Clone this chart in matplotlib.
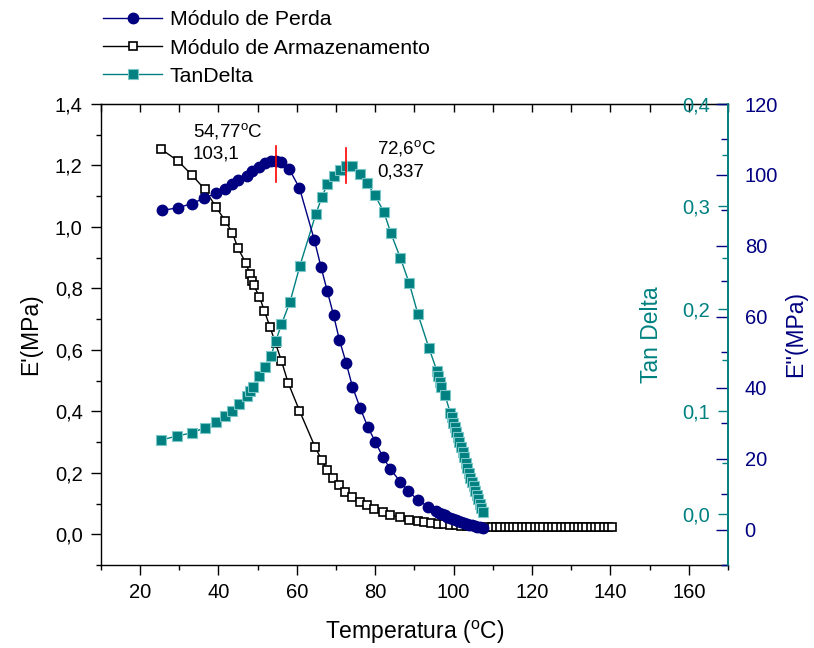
import numpy as np
import matplotlib
matplotlib.use('Agg')
import matplotlib.pyplot as plt
from matplotlib.ticker import MultipleLocator, FuncFormatter

plt.rcParams['font.family'] = ['Liberation Sans', 'DejaVu Sans']
plt.rcParams['mathtext.default'] = 'regular'

# Módulo de Armazenamento E' (MPa), eixo esquerdo
t_arm = [25.4, 29.6, 33.2, 36.5, 39.4, 41.8, 43.6, 45.0, 47.0, 48.1, 48.6, 49.0,
         50.5, 51.7, 53.2, 54.6, 56.1, 57.8, 60.7, 64.7, 66.4, 67.7, 69.2, 70.9,
         72.4, 74.2, 76.2, 78.0, 79.8, 82.0, 83.9, 86.4, 88.6, 90.8, 92.5, 94.3,
         96.0, 97.5, 99.0, 100.5, 102.0, 103.5, 105.0, 106.5, 108.0, 109.7, 110.8,
         111.9, 113.0, 114.1, 115.2, 116.3, 117.4, 118.5, 119.6, 120.7, 121.8, 122.9,
         124.0, 125.1, 126.2, 127.3, 128.4, 129.5, 130.6, 131.7, 132.8, 133.9, 135.0,
         136.1, 137.2, 138.3, 139.4, 140.3]
e_arm = [1.253, 1.216, 1.170, 1.123, 1.065, 1.019, 0.981, 0.931, 0.883, 0.846, 0.824, 0.810,
         0.773, 0.728, 0.674, 0.621, 0.564, 0.493, 0.402, 0.283, 0.241, 0.210, 0.183, 0.159,
         0.137, 0.122, 0.105, 0.095, 0.082, 0.073, 0.063, 0.055, 0.048, 0.042, 0.040, 0.037,
         0.035, 0.033, 0.031, 0.030, 0.028, 0.027, 0.026, 0.025, 0.024, 0.023, 0.023,
         0.023, 0.023, 0.022, 0.022, 0.022, 0.022, 0.022, 0.022, 0.022, 0.022, 0.022,
         0.022, 0.022, 0.022, 0.022, 0.022, 0.022, 0.022, 0.022, 0.022, 0.022, 0.022,
         0.022, 0.022, 0.022, 0.022, 0.022]

# Módulo de Perda E'' (MPa), eixo direito externo
t_perda = [25.6, 29.6, 33.2, 36.3, 39.4, 41.7, 43.5, 45.0, 47.3, 48.6, 50.4, 51.9,
           53.5, 54.7, 56.1, 58.1, 60.7, 64.5, 66.2, 67.8, 69.4, 70.9, 72.6, 74.2,
           76.2, 78.1, 80.0, 82.0, 83.9, 86.4, 88.5, 90.9, 93.6, 95.6, 96.3, 97.0,
           97.7, 98.4, 99.1, 99.8, 100.5, 101.2, 101.9, 102.6, 103.3, 104.0, 104.7,
           105.4, 106.1, 106.8, 107.5]
e_perda = [90.0, 90.7, 91.9, 93.4, 94.8, 96.0, 97.3, 98.6, 99.7, 101.1, 102.3, 103.3,
           103.9, 104.0, 103.6, 101.6, 96.3, 81.6, 74.0, 67.2, 60.4, 53.4, 47.0, 40.3,
           34.2, 29.0, 24.8, 20.4, 17.0, 13.5, 10.8, 8.3, 6.4, 5.2, 4.8, 4.4,
           4.0, 3.6, 3.3, 3.0, 2.7, 2.4, 2.1, 1.8, 1.6, 1.4, 1.2,
           1.0, 0.8, 0.6, 0.4]

# Tan Delta, eixo direito interno
t_tan = [25.5, 29.5, 33.3, 36.5, 39.4, 41.8, 43.6, 45.2, 47.2, 48.1, 48.8, 50.5,
         51.8, 53.4, 54.7, 56.1, 58.3, 60.8, 64.9, 66.4, 67.8, 69.4, 71.0, 72.6,
         74.2, 76.2, 77.9, 79.9, 82.2, 84.0, 86.4, 88.7, 90.9, 93.7, 95.8, 96.1,
         96.5, 96.9, 97.8, 99.2, 99.5, 99.9, 100.3, 100.7, 101.1, 101.5, 101.9,
         102.3, 102.7, 103.1, 103.5, 103.9, 104.3, 104.7, 105.1, 105.5, 105.9,
         106.3, 106.7, 107.1, 107.5]
tan_d = [0.072, 0.076, 0.079, 0.084, 0.090, 0.095, 0.100, 0.107, 0.115, 0.120, 0.124, 0.134,
         0.143, 0.154, 0.169, 0.185, 0.207, 0.242, 0.293, 0.309, 0.322, 0.330, 0.336, 0.339,
         0.339, 0.332, 0.323, 0.311, 0.295, 0.274, 0.250, 0.225, 0.195, 0.162, 0.139, 0.134,
         0.129, 0.124, 0.116, 0.098, 0.094, 0.089, 0.085, 0.080, 0.075, 0.070, 0.065,
         0.060, 0.055, 0.050, 0.045, 0.040, 0.035, 0.031, 0.027, 0.022, 0.018,
         0.014, 0.010, 0.006, 0.002]

# picos anotados
pk_perda_t, pk_perda_v = 54.77, 103.1
pk_tan_t, pk_tan_v = 72.6, 0.337

navy = '#000080'
teal = '#008080'

comma = lambda fmt: FuncFormatter(lambda v, p: fmt.format(v).replace('.', ','))

fig = plt.figure(figsize=(8.14, 6.48), dpi=100)
ax = fig.add_axes([0.1237, 0.1281, 0.7707, 0.7114])
ax2 = ax.twinx()
ax3 = ax.twinx()

l_arm, = ax.plot(t_arm, e_arm, color='k', lw=1, marker='s', ms=5.5,
                 mfc='white', mec='k', mew=1.2, label='Módulo de Armazenamento')
l_tan, = ax2.plot(t_tan, tan_d, color=teal, lw=1, marker='s', ms=6.5,
                  mfc=teal, mec='#7cc8c8', mew=0.8, label='TanDelta')
l_perda, = ax3.plot(t_perda, e_perda, color=navy, lw=1, marker='o', ms=7.5,
                    mfc=navy, mec=navy, label='Módulo de Perda')

# marcadores vermelhos dos picos
ax3.plot([pk_perda_t, pk_perda_t], [pk_perda_v - 5, pk_perda_v + 5], color='red', lw=1.2)
ax2.plot([pk_tan_t, pk_tan_t], [pk_tan_v - 0.014, pk_tan_v + 0.02], color='red', lw=1.2)

ax.text(0.147, 0.941, '54,77$^{o}$C', transform=ax.transAxes, fontsize=13.5, va='center')
ax.text(0.147, 0.8915, '103,1', transform=ax.transAxes, fontsize=13.5, va='center')
ax.text(0.4405, 0.9046, '72,6$^{o}$C', transform=ax.transAxes, fontsize=13.5, va='center')
ax.text(0.4405, 0.8525, '0,337', transform=ax.transAxes, fontsize=13.5, va='center')

# eixo principal
ax.set_xlim(10, 170)
ax.set_ylim(-0.1, 1.4)
ax.xaxis.set_major_locator(MultipleLocator(20))
ax.xaxis.set_minor_locator(MultipleLocator(10))
ax.yaxis.set_major_locator(MultipleLocator(0.2))
ax.yaxis.set_minor_locator(MultipleLocator(0.1))
ax.yaxis.set_major_formatter(comma('{:.1f}'))
ax.tick_params(which='major', direction='out', length=7, width=1, labelsize=14.5, pad=6)
ax.tick_params(which='minor', direction='out', length=3.5, width=1)
ax.spines['right'].set_visible(False)
for s in ['left', 'bottom', 'top']:
    ax.spines[s].set_linewidth(1)
ax.set_xlabel('Temperatura ($^{o}$C)', fontsize=16.5, labelpad=12)
ax.set_ylabel("E'(MPa)", fontsize=16.5, labelpad=9)

top = ax.secondary_xaxis('top')
top.xaxis.set_major_locator(MultipleLocator(10))
top.tick_params(direction='in', length=6, width=1, labeltop=False)

# Tan Delta: espinha à direita, rótulos para dentro
for s in ['top', 'bottom', 'right']:
    ax2.spines[s].set_visible(False)
ax2.spines['left'].set_position(('axes', 1.0))
ax2.spines['left'].set_color(teal)
ax2.spines['left'].set_linewidth(1.2)
ax2.yaxis.tick_left()
ax2.yaxis.set_label_position('left')
ax2.set_ylim(-0.05, 0.4)
ax2.yaxis.set_major_locator(MultipleLocator(0.1))
ax2.yaxis.set_minor_locator(MultipleLocator(0.05))
ax2.yaxis.set_major_formatter(comma('{:.1f}'))
ax2.tick_params(axis='y', which='major', direction='out', length=7, width=1,
                colors=teal, labelsize=14.5, pad=6)
ax2.tick_params(axis='y', which='minor', direction='out', length=4, width=1, colors=teal)
ax2.set_ylabel('Tan Delta', color=teal, fontsize=16.5, labelpad=14)

# E'' (MPa)
for s in ['top', 'bottom', 'left']:
    ax3.spines[s].set_visible(False)
ax3.spines['right'].set_color(teal)
ax3.spines['right'].set_linewidth(1.2)
ax3.set_ylim(-10, 120)
ax3.yaxis.set_major_locator(MultipleLocator(20))
ax3.yaxis.set_minor_locator(MultipleLocator(10))
ax3.tick_params(axis='y', which='major', direction='in', length=9, width=1,
                colors=navy, labelsize=14.5, pad=12)
ax3.tick_params(axis='y', which='minor', direction='in', length=5, width=1, colors=navy)
ax3.set_ylabel("E''(MPa)", color=navy, fontsize=16.5, labelpad=4)

fig.legend([l_perda, l_arm, l_tan],
           ['Módulo de Perda', 'Módulo de Armazenamento', 'TanDelta'],
           loc='upper left', bbox_to_anchor=(0.127, 0.984), frameon=False,
           fontsize=15.3, handlelength=2.75, handletextpad=0.38, borderpad=0,
           borderaxespad=0, labelspacing=0.43)

fig.savefig('out.png', dpi=100)
